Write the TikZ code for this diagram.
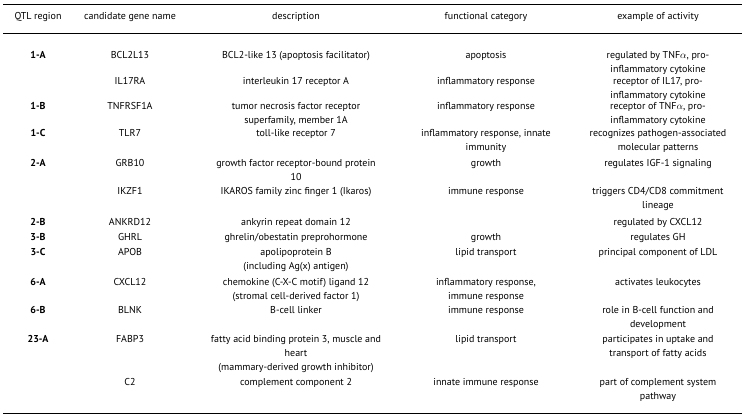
\documentclass[tikz,border=0pt]{standalone}
\usepackage{fontspec}
\setmainfont{PT Sans}
\begin{document}
\begin{tikzpicture}[x=1pt,y=-1pt,
  cell/.style={anchor=north,inner sep=0pt,align=center,font=\fontsize{10}{14}\selectfont},
  qtl/.style={cell,font=\fontsize{10}{14}\selectfont\bfseries}]
\useasboundingbox (0,0) rectangle (748,417);
\coordinate (tl) at (3,5); \coordinate (tr) at (742,5);
\coordinate (ml) at (3,34); \coordinate (mr) at (742,34);
\coordinate (bl) at (3,413); \coordinate (br) at (742,413);
\draw[line width=1pt] (tl) -- (tr);
\draw[line width=1pt] (ml) -- (mr);
\draw[line width=1pt] (bl) -- (br);
\def\a{38}\def\b{130}\def\c{296}\def\d{486}\def\e{658}
% header
\node[cell] (h1) at (\a,12) {QTL region};
\node[cell] (h2) at (\b,12) {candidate gene name};
\node[cell] (h3) at (\c,12) {description};
\node[cell] (h4) at (\d,12) {functional category};
\node[cell] (h5) at (\e,12) {example of activity};
% rows
\node[qtl] (q1) at (\a,51) {1-A};
\node[cell] (g1) at (\b,51) {BCL2L13};
\node[cell] (d1) at (\c,51) {BCL2-like 13 (apoptosis facilitator)};
\node[cell] (f1) at (\d,51) {apoptosis};
\node[cell] (e1) at (\e,51) {regulated by TNF$\alpha$, pro-\\inflammatory cytokine};

\node[cell] (g2) at (\b,77) {IL17RA};
\node[cell] (d2) at (\c,77) {interleukin 17 receptor A};
\node[cell] (f2) at (\d,77) {inflammatory response};
\node[cell] (e2) at (\e,77) {receptor of IL17, pro-\\inflammatory cytokine};

\node[qtl] (q3) at (\a,102) {1-B};
\node[cell] (g3) at (\b,102) {TNFRSF1A};
\node[cell] (d3) at (\c,102) {tumor necrosis factor receptor\\superfamily, member 1A};
\node[cell] (f3) at (\d,102) {inflammatory response};
\node[cell] (e3) at (\e,102) {receptor of TNF$\alpha$, pro-\\inflammatory cytokine};

\node[qtl] (q4) at (\a,129) {1-C};
\node[cell] (g4) at (\b,129) {TLR7};
\node[cell] (d4) at (\c,129) {toll-like receptor 7};
\node[cell] (f4) at (\d,129) {inflammatory response, innate\\immunity};
\node[cell] (e4) at (\e,129) {recognizes pathogen-associated\\molecular patterns};

\node[qtl] (q5) at (\a,159) {2-A};
\node[cell] (g5) at (\b,159) {GRB10};
\node[cell] (d5) at (\c,159) {growth factor receptor-bound protein\\10};
\node[cell] (f5) at (\d,159) {growth};
\node[cell] (e5) at (\e,159) {regulates IGF-1 signaling};

\node[cell] (g6) at (\b,187) {IKZF1};
\node[cell] (d6) at (\c,187) {IKAROS family zinc finger 1 (Ikaros)};
\node[cell] (f6) at (\d,187) {immune response};
\node[cell] (e6) at (\e,187) {triggers CD4/CD8 commitment\\lineage};

\node[qtl] (q7) at (\a,218) {2-B};
\node[cell] (g7) at (\b,218) {ANKRD12};
\node[cell] (d7) at (\c,218) {ankyrin repeat domain 12};
\node[cell] (e7) at (\e,218) {regulated by CXCL12};

\node[qtl] (q8) at (\a,233) {3-B};
\node[cell] (g8) at (\b,233) {GHRL};
\node[cell] (d8) at (\c,233) {ghrelin/obestatin preprohormone};
\node[cell] (f8) at (\d,233) {growth};
\node[cell] (e8) at (\e,233) {regulates GH};

\node[qtl] (q9) at (\a,248) {3-C};
\node[cell] (g9) at (\b,248) {APOB};
\node[cell] (d9) at (\c,248) {apolipoprotein B\\(including Ag(x) antigen)};
\node[cell] (f9) at (\d,248) {lipid transport};
\node[cell] (e9) at (\e,248) {principal component of LDL};

\node[qtl] (q10) at (\a,278) {6-A};
\node[cell] (g10) at (\b,278) {CXCL12};
\node[cell] (d10) at (\c,278) {chemokine (C-X-C motif) ligand 12\\(stromal cell-derived factor 1)};
\node[cell] (f10) at (\d,278) {inflammatory response,\\immune response};
\node[cell] (e10) at (\e,278) {activates leukocytes};

\node[qtl] (q11) at (\a,306) {6-B};
\node[cell] (g11) at (\b,306) {BLNK};
\node[cell] (d11) at (\c,306) {B-cell linker};
\node[cell] (f11) at (\d,306) {immune response};
\node[cell] (e11) at (\e,306) {role in B-cell function and\\development};

\node[qtl] (q12) at (\a,335) {23-A};
\node[cell] (g12) at (\b,335) {FABP3};
\node[cell] (d12) at (\c,335) {fatty acid binding protein 3, muscle and\\heart\\(mammary-derived growth inhibitor)};
\node[cell] (f12) at (\d,335) {lipid transport};
\node[cell] (e12) at (\e,335) {participates in uptake and\\transport of fatty acids};

\node[cell] (g13) at (\b,378) {C2};
\node[cell] (d13) at (\c,378) {complement component 2};
\node[cell] (f13) at (\d,378) {innate immune response};
\node[cell] (e13) at (\e,378) {part of complement system\\pathway};
\end{tikzpicture}
\end{document}
